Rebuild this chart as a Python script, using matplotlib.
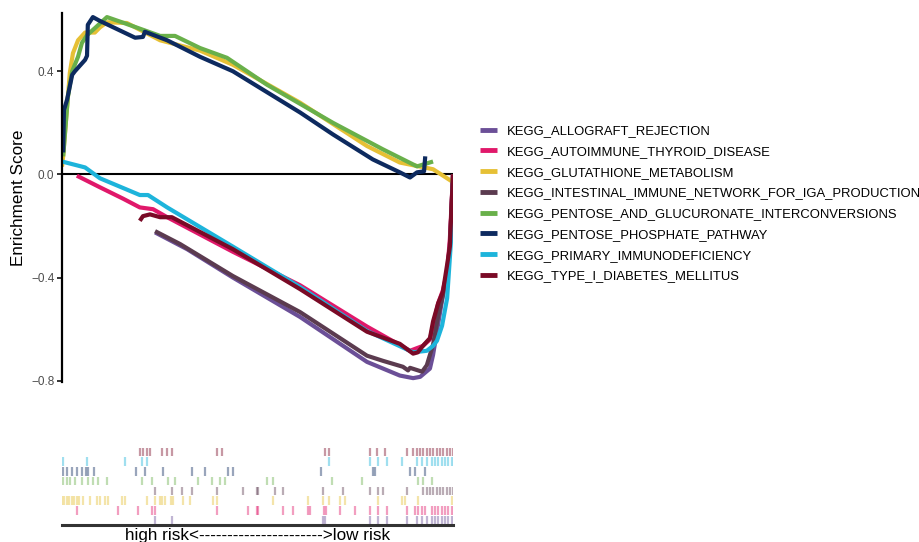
import matplotlib
matplotlib.use("Agg")
import matplotlib.pyplot as plt
from matplotlib.lines import Line2D

plt.rcParams['font.family'] = ['Liberation Sans', 'DejaVu Sans']

# ---------------- data ----------------
gene_sets = [
    "KEGG_ALLOGRAFT_REJECTION",
    "KEGG_AUTOIMMUNE_THYROID_DISEASE",
    "KEGG_GLUTATHIONE_METABOLISM",
    "KEGG_INTESTINAL_IMMUNE_NETWORK_FOR_IGA_PRODUCTION",
    "KEGG_PENTOSE_AND_GLUCURONATE_INTERCONVERSIONS",
    "KEGG_PENTOSE_PHOSPHATE_PATHWAY",
    "KEGG_PRIMARY_IMMUNODEFICIENCY",
    "KEGG_TYPE_I_DIABETES_MELLITUS",
]
colors = ["#6B4F97", "#E0186A", "#E6C035", "#5B3B4F",
          "#69B04A", "#0D2A5F", "#1DB4DB", "#7A0A26"]

# running enrichment score (rank position, ES)
allograft_x = [238, 320, 437, 609, 780, 864, 898, 916, 941, 949, 962, 974, 985, 992, 1000]
allograft_y = [-0.225, -0.29, -0.40, -0.553, -0.727, -0.78, -0.79, -0.785, -0.753, -0.70, -0.58, -0.47, -0.38, -0.28, 0.0]

autoimmune_x = [38, 97, 156, 199, 233, 269, 437, 609, 780, 890, 923, 941, 962, 974, 985, 992, 1000]
autoimmune_y = [-0.005, -0.05, -0.094, -0.128, -0.135, -0.166, -0.30, -0.43, -0.59, -0.684, -0.665, -0.64, -0.50, -0.45, -0.38, -0.25, 0.0]

glutathione_x = [0, 3, 20, 28, 41, 59, 84, 97, 115, 166, 251, 353, 437, 609, 780, 864, 949, 997]
glutathione_y = [0.03, 0.07, 0.394, 0.47, 0.52, 0.55, 0.55, 0.57, 0.59, 0.587, 0.52, 0.48, 0.425, 0.278, 0.11, 0.046, 0.02, -0.027]

intestinal_x = [238, 302, 437, 609, 780, 821, 872, 885, 890, 921, 933, 941, 949, 962, 974, 985, 992, 1000]
intestinal_y = [-0.22, -0.27, -0.394, -0.534, -0.703, -0.723, -0.746, -0.76, -0.75, -0.765, -0.74, -0.70, -0.66, -0.55, -0.47, -0.38, -0.28, 0.0]

pentose_gluc_x = [3, 15, 26, 41, 51, 64, 84, 115, 153, 251, 289, 353, 422, 524, 693, 821, 908, 949]
pentose_gluc_y = [0.07, 0.30, 0.40, 0.456, 0.51, 0.54, 0.567, 0.61, 0.59, 0.537, 0.537, 0.49, 0.452, 0.348, 0.20, 0.097, 0.031, 0.05]

pentose_phos_x = [3, 5, 13, 26, 33, 59, 64, 66, 79, 97, 187, 207, 212, 269, 353, 437, 609, 693, 795, 864, 890, 908, 926, 929]
pentose_phos_y = [0.085, 0.25, 0.29, 0.386, 0.40, 0.444, 0.46, 0.58, 0.61, 0.595, 0.53, 0.533, 0.553, 0.52, 0.456, 0.40, 0.24, 0.155, 0.058, 0.008, -0.012, 0.008, 0.012, 0.07]

primary_x = [0, 59, 97, 199, 220, 269, 437, 609, 780, 898, 933, 949, 959, 972, 985, 997, 1000]
primary_y = [0.05, 0.027, -0.015, -0.08, -0.08, -0.128, -0.28, -0.437, -0.607, -0.69, -0.684, -0.665, -0.645, -0.587, -0.48, -0.21, -0.02]

diabetes_x = [199, 207, 225, 251, 281, 437, 609, 780, 864, 898, 910, 923, 941, 949, 962, 974, 985, 992, 997, 1000]
diabetes_y = [-0.18, -0.162, -0.155, -0.166, -0.166, -0.29, -0.445, -0.61, -0.657, -0.695, -0.69, -0.665, -0.635, -0.57, -0.50, -0.456, -0.35, -0.28, -0.10, 0.0]

# hit positions (rank) per gene set
allograft_hits = [238, 281, 668, 673, 788, 808, 831, 882, 908, 921, 933, 946, 954, 962, 972, 980, 987, 997, 1003]
autoimmune_hits = [38, 143, 194, 230, 238, 396, 476, 499, 501, 565, 591, 629, 634, 670, 675, 711, 749,
                   788, 808, 831, 882, 903, 910, 921, 928, 946, 954, 962, 972, 980, 987, 997, 1003]
glutathione_hits = [0, 5, 13, 18, 26, 31, 38, 43, 54, 72, 90, 97, 110, 118, 153, 161, 217, 238,
                    251, 256, 263, 279, 284, 309, 327, 386, 396, 540, 629, 668, 683, 711, 724,
                    808, 870, 877, 910, 997]
intestinal_hits = [238, 281, 307, 332, 396, 463, 499, 501, 545, 565, 668, 719,
                   788, 808, 821, 882, 923, 933, 941, 949, 959, 967, 974, 985, 992, 1000]
pentose_gluc_hits = [3, 13, 20, 33, 51, 66, 79, 92, 115, 205, 230, 271, 289, 348, 384, 404, 417,
                     524, 540, 691, 767, 910, 923, 946]
pentose_phos_hits = [3, 13, 26, 38, 51, 61, 66, 82, 189, 212, 258, 332, 366, 425, 437, 662,
                     795, 801, 890, 903, 928]
primary_hits = [3, 64, 161, 205, 217, 683, 788, 808, 831, 870, 908, 921, 933, 946, 954, 962,
                972, 980, 987, 997, 1003]
diabetes_hits = [199, 207, 217, 225, 256, 269, 281, 396, 409, 673, 683, 788, 806, 826,
                 882, 898, 908, 916, 923, 933, 941, 949, 959, 967, 974, 985, 992, 1000]

es_x = [allograft_x, autoimmune_x, glutathione_x, intestinal_x,
        pentose_gluc_x, pentose_phos_x, primary_x, diabetes_x]
es_y = [allograft_y, autoimmune_y, glutathione_y, intestinal_y,
        pentose_gluc_y, pentose_phos_y, primary_y, diabetes_y]
hits = [allograft_hits, autoimmune_hits, glutathione_hits, intestinal_hits,
        pentose_gluc_hits, pentose_phos_hits, primary_hits, diabetes_hits]

yticks = [0.4, 0.0, -0.4, -0.8]
ytick_labels = ["0.4", "0.0", "\u22120.4", "\u22120.8"]
n_genes = 1000

# ---------------- figure ----------------
fig = plt.figure(figsize=(9.2, 5.42), dpi=100)
W, H = 920.0, 542.0
left_px, right_px = 62.0, 453.0

ax = fig.add_axes([left_px / W, 1 - 382 / H, (right_px - left_px) / W, (382 - 12.7) / H])
ax.axhline(0, color="black", lw=1.5, zorder=1)
for xs, ys, c, lab in zip(es_x, es_y, colors, gene_sets):
    ax.plot(xs, ys, color=c, lw=3.0, solid_joinstyle="round", solid_capstyle="butt",
            label=lab, zorder=2)
ax.set_xlim(0, n_genes)
ax.set_ylim(-0.805, 0.627)
for s in ["top", "right", "bottom"]:
    ax.spines[s].set_visible(False)
ax.spines["left"].set_linewidth(1.6)
ax.spines["left"].set_color("black")
ax.set_xticks([])
ax.set_yticks(yticks)
ax.set_yticklabels(ytick_labels)
ax.tick_params(axis="y", length=3.5, width=1.4, color="#333333",
               labelsize=8.5, labelcolor="#4D4D4D", pad=2)
ax.set_ylabel("Enrichment Score", fontsize=12.3, color="black", labelpad=3.5)

# legend
handles = [Line2D([0], [0], color=c, lw=3.5, solid_capstyle="butt") for c in colors]
fig.legend(handles, gene_sets, loc="upper left", bbox_to_anchor=(480 / W, 1 - 125 / H),
           frameon=False, fontsize=9.4, handlelength=1.3, handletextpad=0.78,
           labelspacing=0.66, borderaxespad=0, borderpad=0)

# rug panel
axr = fig.add_axes([left_px / W, 1 - 525 / H, (right_px - left_px) / W, (525 - 447) / H])
nrow = len(hits)
for k, (h, c) in enumerate(zip(hits, colors)):
    axr.vlines(h, k + 0.06, k + 0.94, colors=c, alpha=0.42, lw=1.6)
axr.set_xlim(0, n_genes)
axr.set_ylim(0, nrow)
for s in ["top", "right", "left"]:
    axr.spines[s].set_visible(False)
axr.spines["bottom"].set_linewidth(2.2)
axr.spines["bottom"].set_color("#333333")
axr.set_xticks([])
axr.set_yticks([])
axr.set_xlabel("high risk<---------------------->low risk", fontsize=12.3, labelpad=2)

fig.savefig("out.png", dpi=100)
